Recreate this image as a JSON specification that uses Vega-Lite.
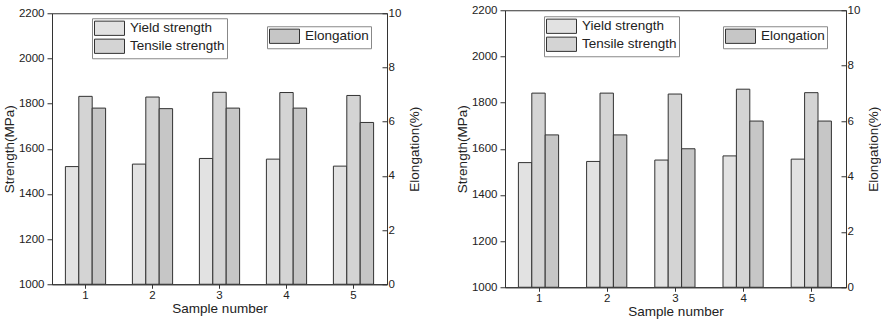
{
  "$schema": "https://vega.github.io/schema/vega-lite/v6.json",
  "background": "white",
  "padding": {"left": 1, "top": 3, "right": 0, "bottom": 0},
  "config": {
    "font": "Liberation Sans",
    "view": {"stroke": "#333", "strokeWidth": 1},
    "axis": {"grid": false, "domainColor": "#333", "tickColor": "#333", "labelColor": "#222", "titleColor": "#222", "labelFontSize": 11.5, "titleFontSize": 13.5, "titleFontWeight": "normal", "tickSize": 5, "labelPadding": 3, "titlePadding": 2},
    "axisX": {"labelPadding": 1, "titlePadding": 1, "tickSize": 4},
    "legend": {"title": null, "orient": "none", "direction": "vertical", "strokeColor": "#888", "fillColor": "white", "padding": 2, "rowPadding": -3, "symbolType": "M-1,-0.95H3V0.95H-1Z", "symbolSize": 225, "symbolStrokeColor": "#333", "symbolStrokeWidth": 1, "labelFontSize": 13.5, "labelColor": "#222", "labelOffset": 20},
    "bar": {"stroke": "#333", "strokeWidth": 1}
  },
  "datasets": {
    "a_strength": [
      {"sample": 1, "series": "Yield strength", "value": 1521},
      {"sample": 1, "series": "Tensile strength", "value": 1832},
      {"sample": 2, "series": "Yield strength", "value": 1532},
      {"sample": 2, "series": "Tensile strength", "value": 1829},
      {"sample": 3, "series": "Yield strength", "value": 1557},
      {"sample": 3, "series": "Tensile strength", "value": 1850},
      {"sample": 4, "series": "Yield strength", "value": 1554},
      {"sample": 4, "series": "Tensile strength", "value": 1849},
      {"sample": 5, "series": "Yield strength", "value": 1523},
      {"sample": 5, "series": "Tensile strength", "value": 1836}
    ],
    "a_elong": [
      {"sample": 1, "series": "Elongation", "value": 6.5},
      {"sample": 2, "series": "Elongation", "value": 6.48},
      {"sample": 3, "series": "Elongation", "value": 6.5},
      {"sample": 4, "series": "Elongation", "value": 6.5},
      {"sample": 5, "series": "Elongation", "value": 5.97}
    ],
    "b_strength": [
      {"sample": 1, "series": "Yield strength", "value": 1540},
      {"sample": 1, "series": "Tensile strength", "value": 1841},
      {"sample": 2, "series": "Yield strength", "value": 1545},
      {"sample": 2, "series": "Tensile strength", "value": 1841},
      {"sample": 3, "series": "Yield strength", "value": 1551},
      {"sample": 3, "series": "Tensile strength", "value": 1837},
      {"sample": 4, "series": "Yield strength", "value": 1569},
      {"sample": 4, "series": "Tensile strength", "value": 1858},
      {"sample": 5, "series": "Yield strength", "value": 1555},
      {"sample": 5, "series": "Tensile strength", "value": 1843}
    ],
    "b_elong": [
      {"sample": 1, "series": "Elongation", "value": 5.5},
      {"sample": 2, "series": "Elongation", "value": 5.5},
      {"sample": 3, "series": "Elongation", "value": 5.0},
      {"sample": 4, "series": "Elongation", "value": 6.0},
      {"sample": 5, "series": "Elongation", "value": 6.0}
    ]
  },
  "spacing": 32,
  "center": true,
  "resolve": {"scale": {"fill": "independent"}, "legend": {"fill": "independent"}},
  "hconcat": [
    {
      "width": 335,
      "height": 271,
      "layer": [
        {
          "data": {"name": "a_strength"},
          "mark": {"type": "bar"},
          "encoding": {
            "x": {"field": "sample", "type": "ordinal", "scale": {"paddingInner": 0, "paddingOuter": 0}, "axis": {"title": "Sample number", "labelAngle": 0}},
            "xOffset": {"field": "series", "type": "nominal", "scale": {"domain": ["Yield strength", "Tensile strength", "Elongation"], "paddingInner": 0, "paddingOuter": 1.43}},
            "y": {"field": "value", "type": "quantitative", "scale": {"domain": [1000, 2200], "nice": false, "zero": false}, "axis": {"title": "Strength(MPa)", "format": "d", "values": [1000, 1200, 1400, 1600, 1800, 2000, 2200]}},
            "y2": {"datum": 1000},
            "fill": {"field": "series", "type": "nominal", "scale": {"domain": ["Yield strength", "Tensile strength"], "range": ["#e2e2e2", "#d4d4d4"]}, "legend": {"legendX": 40, "legendY": 5}}
          }
        },
        {
          "data": {"name": "a_elong"},
          "mark": {"type": "bar"},
          "encoding": {
            "x": {"field": "sample", "type": "ordinal", "scale": {"paddingInner": 0, "paddingOuter": 0}},
            "xOffset": {"field": "series", "type": "nominal", "scale": {"domain": ["Yield strength", "Tensile strength", "Elongation"], "paddingInner": 0, "paddingOuter": 1.43}},
            "y": {"field": "value", "type": "quantitative", "scale": {"domain": [0, 10], "nice": false}, "axis": {"orient": "right", "title": "Elongation(%)", "titleAngle": 270, "titleBaseline": "top", "titlePadding": 7, "tickSize": -5, "labelPadding": 6, "values": [0, 2, 4, 6, 8, 10]}},
            "fill": {"field": "series", "type": "nominal", "scale": {"domain": ["Elongation"], "range": ["#c6c6c6"]}, "legend": {"legendX": 215, "legendY": 13}}
          }
        }
      ],
      "resolve": {"scale": {"y": "independent", "fill": "independent"}, "legend": {"fill": "independent"}}
    },
    {
      "width": 341,
      "height": 277,
      "layer": [
        {
          "data": {"name": "b_strength"},
          "mark": {"type": "bar"},
          "encoding": {
            "x": {"field": "sample", "type": "ordinal", "scale": {"paddingInner": 0, "paddingOuter": 0}, "axis": {"title": "Sample number", "labelAngle": 0}},
            "xOffset": {"field": "series", "type": "nominal", "scale": {"domain": ["Yield strength", "Tensile strength", "Elongation"], "paddingInner": 0, "paddingOuter": 1.43}},
            "y": {"field": "value", "type": "quantitative", "scale": {"domain": [1000, 2200], "nice": false, "zero": false}, "axis": {"title": "Strength(MPa)", "format": "d", "values": [1000, 1200, 1400, 1600, 1800, 2000, 2200]}},
            "y2": {"datum": 1000},
            "fill": {"field": "series", "type": "nominal", "scale": {"domain": ["Yield strength", "Tensile strength"], "range": ["#e2e2e2", "#d4d4d4"]}, "legend": {"legendX": 39, "legendY": 6}}
          }
        },
        {
          "data": {"name": "b_elong"},
          "mark": {"type": "bar"},
          "encoding": {
            "x": {"field": "sample", "type": "ordinal", "scale": {"paddingInner": 0, "paddingOuter": 0}},
            "xOffset": {"field": "series", "type": "nominal", "scale": {"domain": ["Yield strength", "Tensile strength", "Elongation"], "paddingInner": 0, "paddingOuter": 1.43}},
            "y": {"field": "value", "type": "quantitative", "scale": {"domain": [0, 10], "nice": false}, "axis": {"orient": "right", "title": "Elongation(%)", "titleAngle": 270, "titleBaseline": "top", "titlePadding": 7, "tickSize": -5, "labelPadding": 6, "values": [0, 2, 4, 6, 8, 10]}},
            "fill": {"field": "series", "type": "nominal", "scale": {"domain": ["Elongation"], "range": ["#c6c6c6"]}, "legend": {"legendX": 218, "legendY": 16}}
          }
        }
      ],
      "resolve": {"scale": {"y": "independent", "fill": "independent"}, "legend": {"fill": "independent"}}
    }
  ]
}
